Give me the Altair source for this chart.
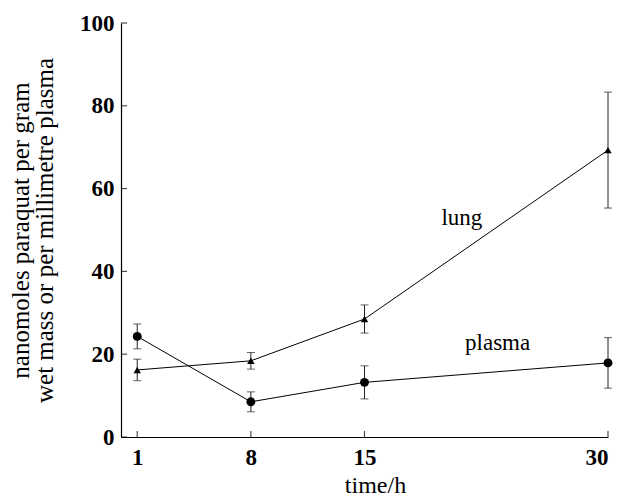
import altair as alt
import pandas as pd

times = [1, 8, 15, 30]
lung_mean = [16.2, 18.4, 28.5, 69.3]
lung_err = [2.6, 2.0, 3.4, 14.0]
plasma_mean = [24.3, 8.5, 13.2, 17.9]
plasma_err = [3.0, 2.4, 4.0, 6.1]

x_ticks = [1, 8, 15, 30]
y_ticks = [0, 20, 40, 60, 80, 100]

label_text = ["lung", "plasma"]
label_x = [21.0, 23.2]
label_y = [52.9, 22.7]

rows = []
for t, m, e in zip(times, lung_mean, lung_err):
    rows.append({"t": t, "v": m, "lo": m - e, "hi": m + e, "s": "lung"})
for t, m, e in zip(times, plasma_mean, plasma_err):
    rows.append({"t": t, "v": m, "lo": m - e, "hi": m + e, "s": "plasma"})
df = pd.DataFrame(rows)

FONT = "Liberation Serif, DejaVu Serif, serif"

xs = alt.Scale(domain=[0, 30], nice=False, zero=False)
ys = alt.Scale(domain=[0, 100], nice=False)

X = alt.X("t:Q", scale=xs,
          axis=alt.Axis(values=x_ticks, title="time/h", grid=False, ticks=False,
                        labelPadding=9, titlePadding=4, titleX=254, domainColor="black",
                        labelFont=FONT, titleFont=FONT, titleFontSize=24))
Y = alt.Y("v:Q", scale=ys,
          axis=alt.Axis(values=y_ticks, title=["nanomoles paraquat per gram",
                                               "wet mass or per millimetre plasma"],
                        grid=False, ticks=False, labelPadding=7, titlePadding=22,
                        domainColor="black", labelFont=FONT, titleFont=FONT,
                        titleLineHeight=24))

base = alt.Chart(df)

lines = base.mark_line(color="black", strokeWidth=1).encode(x=X, y=Y, detail="s:N")

rules = base.mark_rule(color="#222", strokeWidth=1).encode(
    x="t:Q", y="lo:Q", y2="hi:Q")
cap_lo = base.mark_tick(color="#222", orient="horizontal", size=8, thickness=1).encode(
    x="t:Q", y="lo:Q")
cap_hi = base.mark_tick(color="#222", orient="horizontal", size=8, thickness=1).encode(
    x="t:Q", y="hi:Q")

circles = alt.Chart(df[df.s == "plasma"]).mark_point(
    shape="circle", filled=True, color="black", size=80, opacity=1).encode(x="t:Q", y="v:Q")
tris = alt.Chart(df[df.s == "lung"]).mark_point(
    shape="triangle-up", filled=True, color="black", size=55, opacity=1).encode(x="t:Q", y="v:Q")

labels = alt.Chart(pd.DataFrame({"x": label_x, "y": label_y, "txt": label_text})).mark_text(
    font=FONT, fontSize=23, color="black").encode(x="x:Q", y="y:Q", text="txt:N")

ytk = alt.Chart(pd.DataFrame({"y": y_ticks, "x": [0] * len(y_ticks)})).mark_tick(
    color="black", orient="horizontal", size=6, thickness=1.2, xOffset=3).encode(
    x="x:Q", y="y:Q")
xtk = alt.Chart(pd.DataFrame({"x": x_ticks, "y": [0] * len(x_ticks)})).mark_tick(
    color="black", orient="vertical", size=6, thickness=1.2, yOffset=-3).encode(
    x="x:Q", y="y:Q")

chart = alt.layer(lines, rules, cap_lo, cap_hi, circles, tris, labels, ytk, xtk).properties(
    width=487, height=414,
    autosize=alt.AutoSizeParams(type="none"),
    padding={"left": 121, "top": 23, "right": 23, "bottom": 63},
    background="white",
).configure_view(stroke=None).configure_axis(
    labelFontSize=23, labelFontWeight="bold", labelColor="black",
    titleFontSize=25, titleFontWeight="normal", titleColor="black",
    domainWidth=1.2,
)

chart.save("out.html", embed_options={"renderer": "svg", "actions": False})
